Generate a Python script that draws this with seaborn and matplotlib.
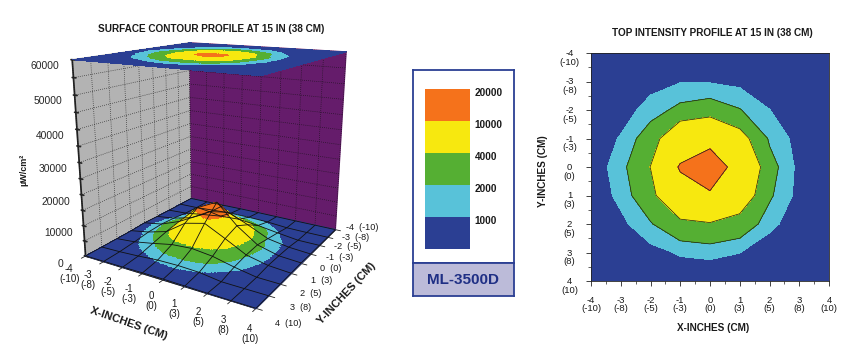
import numpy as np
import matplotlib
matplotlib.use("Agg")
import matplotlib.pyplot as plt
from matplotlib.colors import ListedColormap
from matplotlib.transforms import ScaledTranslation
from mpl_toolkits.mplot3d import proj3d
import seaborn as sns

W, H = 864, 359

x_vals = [-4, -3, -2, -1, 0, 1, 2, 3, 4]
y_vals = [-4, -3, -2, -1, 0, 1, 2, 3, 4]
cm_vals = [-10, -8, -5, -3, 0, 3, 5, 8, 10]

# rows are y = -4..4, columns x = -4..4
intensity = np.array([
    [30, 50, 80, 150, 150, 100, 50, 30, 20],
    [50, 150, 583, 930, 907, 700, 150, 50, 30],
    [100, 470, 1451, 2360, 2760, 2070, 1020, 100, 50],
    [190, 1100, 2800, 6570, 7860, 5000, 1800, 590, 80],
    [390, 1500, 4050, 10500, 13800, 7350, 2570, 680, 200],
    [153, 1330, 3140, 7660, 9220, 5810, 2200, 640, 100],
    [80, 688, 1887, 3250, 3725, 2980, 1400, 150, 50],
    [50, 230, 601, 1130, 1260, 1020, 100, 50, 30],
    [30, 60, 100, 200, 217, 150, 50, 30, 20],
], dtype=float)

levels = [0, 1000, 2000, 4000, 10000, 20000]
legend_labels = ["20000", "10000", "4000", "2000", "1000"]
band_colors = ["#2B3F93", "#58C2D9", "#55AF33", "#F7E80F", "#F5721B"]
z_ticks = list(range(0, 60001, 5000))
z_labels = [str(z) if z % 10000 == 0 else "" for z in z_ticks]
model_name = "ML-3500D"

sns.set_theme(style="white")
plt.rcParams["font.family"] = ["Liberation Sans", "DejaVu Sans"]
plt.rcParams["grid.color"] = "#111111"
plt.rcParams["grid.linewidth"] = 0.5
plt.rcParams["grid.linestyle"] = (0, (1, 2))
plt.rcParams["text.color"] = "#1a1a1a"

def rect(left, top, right, bottom):
    return [left / W, 1 - bottom / H, (right - left) / W, (bottom - top) / H]

def put(px, py, s, **kw):
    fig.text(px / W, 1 - py / H, s, ha="center", va="center", **kw)

fig = plt.figure(figsize=(W / 100, H / 100), dpi=100)
X, Y = np.meshgrid(x_vals, y_vals)
cmap = ListedColormap(band_colors)

# ---- 3D surface
sub = 24
xf = np.linspace(-4, 4, 8 * sub + 1)
yf = np.linspace(-4, 4, 8 * sub + 1)
Zf = np.array([np.interp(xf, x_vals, row) for row in intensity])
Zf = np.array([np.interp(yf, y_vals, col) for col in Zf.T]).T
Xf, Yf = np.meshgrid(xf, yf)
faces = cmap(np.clip(np.digitize(Zf, levels) - 1, 0, 4))

ax3 = fig.add_axes(rect(7, -21.5, 417, 337.5), projection="3d")
ax3.computed_zorder = False
ax3.set_proj_type("persp", focal_length=0.30)
ax3.view_init(elev=16, azim=-59)
ax3.set_box_aspect((1, 1, 1.02), zoom=0.895)
ax3.set_xlim(-4, 4, view_margin=0)
ax3.set_ylim(4, -4, view_margin=0)
ax3.set_zlim(0, 60000, view_margin=0)
ax3.patch.set_alpha(0)

ax3.xaxis.set_pane_color("#B3B3B3")
ax3.yaxis.set_pane_color("#651C6B")
ax3.zaxis.set_pane_color("#2B3F93")
ax3.grid(True)

ax3.set_xticks([])
ax3.set_yticks([])
ax3.set_zticks(z_ticks)
ax3.set_zticklabels(z_labels, fontsize=7.4)
ax3.zaxis.set_ticks_position("upper")
ax3.tick_params(axis="z", pad=4)

# wall grid and floor ticks for x and y, the labels are placed below
dots = dict(color="#111111", linewidth=0.5, linestyle=(0, (1, 2)), zorder=1)
ticks = dict(color="#222222", linewidth=0.6, zorder=1)
z_top = z_ticks[-1]
for v in x_vals:
    ax3.plot([v, v], [-4, -4], [0, z_top], **dots)
    ax3.plot([v, v], [4, 4.25], [0, 0], **ticks)
for v in y_vals:
    ax3.plot([-4, -4], [v, v], [0, z_top], **dots)
    ax3.plot([4, 4.25], [v, v], [0, 0], **ticks)

ax3.plot_surface(Xf, Yf, Zf, facecolors=faces, rstride=1, cstride=1, shade=False,
                 linewidth=0, antialiased=False, zorder=2)
ax3.plot_wireframe(X, Y, intensity, color="#111111", linewidth=0.6, zorder=3)
ax3.plot_surface(Xf, Yf, np.full_like(Zf, z_top), facecolors=faces, rstride=1, cstride=1,
                 shade=False, linewidth=0, antialiased=False, zorder=4)

# tick labels sit off the floor edges, like the original
proj = ax3.get_proj()
def floor_label(x, y, z, s, size=7, **kw):
    px, py, _ = proj3d.proj_transform(x, y, z, proj)
    ax3.text2D(px, py, s, transform=ax3.transData, fontsize=size, ha="center", va="center",
               zorder=6, **kw)

for v, c in zip(x_vals, cm_vals):
    floor_label(v + 0.55, 4 + 1.5, 0, f"{v}\n({c})", linespacing=1.0)
for v, c in zip(y_vals, cm_vals):
    floor_label(4 + 1.25, v, 700 - 500 * v, f"{v}  ({c})", size=6.6)

put(211, 29, "SURFACE CONTOUR PROFILE AT 15 IN (38 CM)", fontsize=7.2, fontweight="bold")
put(129, 323, "X-INCHES (CM)", fontsize=8, fontweight="bold", rotation=-19)
put(347, 293, "Y-INCHES (CM)", fontsize=8, fontweight="bold", rotation=47)
put(24, 170, "µW/cm²", fontsize=6.5, fontweight="bold", rotation=90)

# ---- legend panel
panel = fig.add_axes(rect(413, 70, 514, 263))
panel.set_xticks([]); panel.set_yticks([])
footer = fig.add_axes(rect(413, 263, 514, 296), facecolor="#BCBBD9")
footer.set_xticks([]); footer.set_yticks([])
footer.text(0.5, 0.47, model_name, transform=footer.transAxes, ha="center", va="center",
            fontsize=11, fontweight="bold", color="#1F2F85")
for a in (panel, footer):
    for s in a.spines.values():
        s.set_color("#2B3F93"); s.set_linewidth(1.3); s.set_visible(True)

lax = fig.add_axes(rect(425, 89, 470, 249))
sns.heatmap(np.arange(4, -1, -1).reshape(-1, 1), cmap=cmap, cbar=False, ax=lax,
            xticklabels=False, yticklabels=legend_labels, vmin=-0.5, vmax=4.5)
lax.yaxis.tick_right()
lax.set_yticks(np.arange(5) + 0.08)
lax.set_yticklabels(legend_labels, rotation=0, fontsize=7.2, fontweight="bold", color="#1a1a1a")
lax.tick_params(axis="y", length=0, pad=3.5)

# ---- top view
ax = fig.add_axes(rect(591, 53, 829, 281))
ax.contourf(X, Y, intensity, levels=levels, colors=band_colors)
ax.contour(X, Y, intensity, levels=levels[2:5], colors="#1a1a1a", linewidths=0.5)
ax.set_xlim(-4, 4)
ax.set_ylim(4, -4)
ax.set_xticks(x_vals)
ax.set_xticklabels([f"{v}\n({c})" for v, c in zip(x_vals, cm_vals)], fontsize=6.8, linespacing=0.95)
ax.set_yticks(y_vals)
ax.set_yticklabels([f"{v}\n({c})" for v, c in zip(y_vals, cm_vals)], fontsize=6.8, linespacing=0.95,
                   ha="center")
ax.set_xticks(np.arange(-3.5, 4, 1), minor=True)
ax.set_yticks(np.arange(-3.5, 4, 1), minor=True)
ax.tick_params(axis="both", which="major", length=3.5, width=0.6, color="#222222", labelcolor="#1a1a1a", bottom=True, left=True)
ax.tick_params(axis="both", which="minor", length=2, width=0.5, color="#222222", bottom=True, left=True)
ax.tick_params(axis="x", which="major", pad=7)
ax.tick_params(axis="y", which="major", pad=12)
shift = ScaledTranslation(0, -4 / 100, fig.dpi_scale_trans)
for lab in ax.get_yticklabels():
    lab.set_transform(lab.get_transform() + shift)
for s in ax.spines.values():
    s.set_color("#222222"); s.set_linewidth(0.6); s.set_visible(True)

put(712.5, 33, "TOP INTENSITY PROFILE AT 15 IN (38 CM)", fontsize=7.2, fontweight="bold")
put(713, 328, "X-INCHES (CM)", fontsize=7.2, fontweight="bold")
put(543, 171, "Y-INCHES (CM)", fontsize=7.2, fontweight="bold", rotation=90)

fig.savefig("out.png", dpi=100)
